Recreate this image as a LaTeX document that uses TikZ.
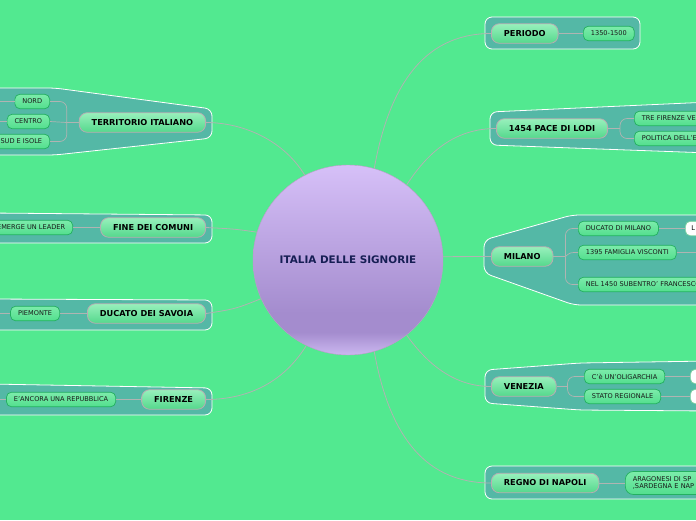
\documentclass[tikz,border=0pt]{standalone}
\usepackage{fontspec}
\setmainfont{DejaVu Sans}
\usepackage{tikz}
\usetikzlibrary{positioning}
\tikzset{>=latex}
\definecolor{mygreen}{RGB}{82,233,144}
\definecolor{mypanel}{RGB}{84,184,166}
\definecolor{topictop}{RGB}{152,240,188}
\definecolor{topicbot}{RGB}{84,216,140}
\definecolor{topicline}{RGB}{184,172,178}
\definecolor{subtop}{RGB}{124,236,170}
\definecolor{subbot}{RGB}{82,222,142}
\definecolor{subline}{RGB}{36,176,96}
\definecolor{linkgray}{RGB}{176,180,178}
\definecolor{hubA}{RGB}{214,192,248}
\definecolor{hubB}{RGB}{164,140,206}
\definecolor{hubC}{RGB}{204,184,240}
\definecolor{hubtext}{RGB}{22,30,84}
\pgfdeclareverticalshading{hubshade}{100bp}{color(0bp)=(hubC); color(25bp)=(hubC); color(31bp)=(hubB); color(36bp)=(hubB); color(75bp)=(hubA); color(100bp)=(hubA)}
\tikzset{
  hub/.style={circle, draw=hubB!70!pink, shading=hubshade, minimum size=190pt, inner sep=0pt,
    text=hubtext, font=\fontsize{10.4}{12}\selectfont\bfseries},
  topic/.style={draw=topicline, rounded corners=8pt, top color=topictop, bottom color=topicbot,
    minimum height=19.5pt, inner xsep=12.5pt, inner ysep=0pt, line width=0.8pt,
    font=\fontsize{8.2}{9}\selectfont\bfseries},
  sub/.style={draw=subline, rounded corners=5pt, top color=subtop, bottom color=subbot,
    minimum height=14.5pt, inner xsep=7.5pt, inner ysep=0pt, line width=0.7pt,
    text=black!90, font=\fontsize{6.6}{7.8}\selectfont},
  blank/.style={draw=subline!60!white, fill=white, rounded corners=5pt, minimum height=14.5pt,
    minimum width=40pt, line width=0.7pt, font=\fontsize{6.6}{7.8}\selectfont},
  panel/.style={fill=mypanel, draw=white, line width=0.8pt, rounded corners=7pt},
  link/.style={draw=linkgray, line width=0.8pt},
  twig/.style={draw=linkgray, line width=0.7pt, rounded corners=7pt},
}

\begin{document}
\begin{tikzpicture}[x=1pt, y=-1pt]
\useasboundingbox (0,0) rectangle (696,520);
\clip (0,0) rectangle (696,520);
\fill[mygreen] (0,0) rectangle (696,520);

% panels, right
\path[panel] (485,17) rectangle (640,49);
\path[panel] (490,112) -- (710,102) -- (710,153) -- (490,145) -- cycle;
\path[panel] (484,240) -- (572,215) -- (710,215) -- (710,305) -- (574,305) -- (484,273) -- cycle;
\path[panel] (485,370) -- (580,363) -- (710,361) -- (710,411) -- (580,410) -- (485,403) -- cycle;
\path[panel] (485,466) rectangle (710,499);
% panels, left
\path[panel] (212,109) -- (55,88) -- (-10,88) -- (-10,155) -- (55,155) -- (212,138) -- cycle;
\path[panel] (212,215) -- (-10,213) -- (-10,243) -- (212,243) -- cycle;
\path[panel] (212,300) -- (-10,299) -- (-10,330) -- (212,330) -- cycle;
\path[panel] (212,388) -- (-10,384) -- (-10,415) -- (212,415) -- cycle;

\node[hub] (hub) at (348,260) {ITALIA DELLE SIGNORIE};

% right side
\node[topic, anchor=west] (periodo) at (491,33.5) {PERIODO};
\node[sub, anchor=west] (anni) at (583,33.5) {1350-1500};

\node[topic, anchor=west] (lodi) at (496,128.5) {1454 PACE DI LODI};
\node[sub, anchor=west, text width=80pt, align=left] (lodiA) at (634,118.5) {TRE FIRENZE VE};
\node[sub, anchor=west, text width=80pt, align=left] (lodiB) at (634,138.5) {POLITICA DELL'E};

\node[topic, anchor=west] (milano) at (491,256.5) {MILANO};
\node[sub, anchor=west] (milA) at (578,228.5) {DUCATO DI MILANO};
\node[blank, anchor=west, text width=30pt, align=left, inner xsep=6pt] (milA2) at (685,228.5) {L};
\node[sub, anchor=west] (milB) at (578,252.5) {1395 FAMIGLIA VISCONTI};
\node[sub, anchor=west] (milC) at (578,284.5) {NEL 1450 SUBENTRO' FRANCESCO};
\coordinate (milBX) at (710,252.5);

\node[topic, anchor=west] (venezia) at (491,386.5) {VENEZIA};
\node[sub, anchor=west] (venA) at (584,376.5) {C'è UN'OLIGARCHIA};
\node[sub, anchor=west] (venB) at (584,396.5) {STATO REGIONALE};
\node[blank, anchor=west] (venA2) at (690,376.5) {};
\node[blank, anchor=west] (venB2) at (690,396.5) {};

\node[topic, anchor=west] (napoli) at (491,483) {REGNO DI NAPOLI};
\node[sub, anchor=west, text width=80pt, align=left, minimum height=23pt, rounded corners=8pt,
  font=\fontsize{6.6}{7.8}\selectfont] (napA) at (625,483) {ARAGONESI DI SP\\,SARDEGNA E NAP};

% left side
\node[topic, anchor=east] (terr) at (206,122.5) {TERRITORIO ITALIANO};
\node[sub, anchor=east] (nord) at (50,101.5) {NORD};
\node[sub, anchor=east] (centro) at (50,121.5) {CENTRO};
\node[sub, anchor=east] (sud) at (50,141.5) {SUD E ISOLE};
\coordinate (nordX) at (-10,101.5);
\coordinate (centroX) at (-10,121.5);

\node[topic, anchor=east] (comuni) at (206,227.5) {FINE DEI COMUNI};
\node[sub, anchor=east] (leader) at (73,227.5) {EMERGE UN LEADER};

\node[topic, anchor=east] (savoia) at (206,313.5) {DUCATO DEI SAVOIA};
\node[sub, anchor=east] (piem) at (60,313.5) {PIEMONTE};
\coordinate (piemX) at (-10,313.5);

\node[topic, anchor=east] (firenze) at (206,399.5) {FIRENZE};
\node[sub, anchor=east] (repub) at (116,399.5) {E'ANCORA UNA REPUBBLICA};
\coordinate (repubX) at (-10,399.5);

% links from the centre
\draw[link] (hub.74) .. controls (388,92) and (420,33.5) .. (periodo.west);
\draw[link] (hub.52) .. controls (428,152) and (455,128.5) .. (lodi.west);
\draw[link] (hub.2) -- (milano.west);
\draw[link] (hub.-52) .. controls (428,365) and (455,386.5) .. (venezia.west);
\draw[link] (hub.-74) .. controls (388,428) and (420,483) .. (napoli.west);
\draw[link] (hub.117) .. controls (282,138) and (240,122.5) .. (terr.east);
\draw[link] (hub.163) .. controls (235,229) .. (comuni.east);
\draw[link] (hub.204) .. controls (235,309) .. (savoia.east);
\draw[link] (hub.244) .. controls (280,388) and (240,399.5) .. (firenze.east);

% twigs inside the panels
\draw[twig] (periodo.east) -- (anni.west);
\draw[twig] (lodi.east) -- ++(12,0) coordinate (jl);
\draw[twig] (jl) |- (lodiA.west);
\draw[twig] (jl) |- (lodiB.west);
\draw[twig] (milano.east) -- ++(12,0) coordinate (jm);
\draw[twig] (jm) |- (milA.west);
\draw[twig] (jm) .. controls (570,252.5) .. (milB.west);
\draw[twig] (jm) |- (milC.west);
\draw[twig] (milA.east) -- (milA2.west);
\draw[twig] (milB.east) -- (milBX);
\draw[twig] (venezia.east) -- ++(11,0) coordinate (jv);
\draw[twig] (jv) |- (venA.west);
\draw[twig] (jv) |- (venB.west);
\draw[twig] (venA.east) -- (venA2.west);
\draw[twig] (venB.east) -- (venB2.west);
\draw[twig] (napoli.east) -- (napA.west);
\draw[twig] (terr.west) -- ++(-12,0) coordinate (jt);
\draw[twig] (jt) |- (nord.east);
\draw[twig] (jt) -- (centro.east);
\draw[twig] (jt) |- (sud.east);
\draw[twig] (nord.west) -- (nordX);
\draw[twig] (centro.west) -- (centroX);
\draw[twig] (comuni.west) -- (leader.east);
\draw[twig] (savoia.west) -- (piem.east);
\draw[twig] (piem.west) -- (piemX);
\draw[twig] (firenze.west) -- (repub.east);
\draw[twig] (repub.west) -- (repubX);
\end{tikzpicture}
\end{document}
